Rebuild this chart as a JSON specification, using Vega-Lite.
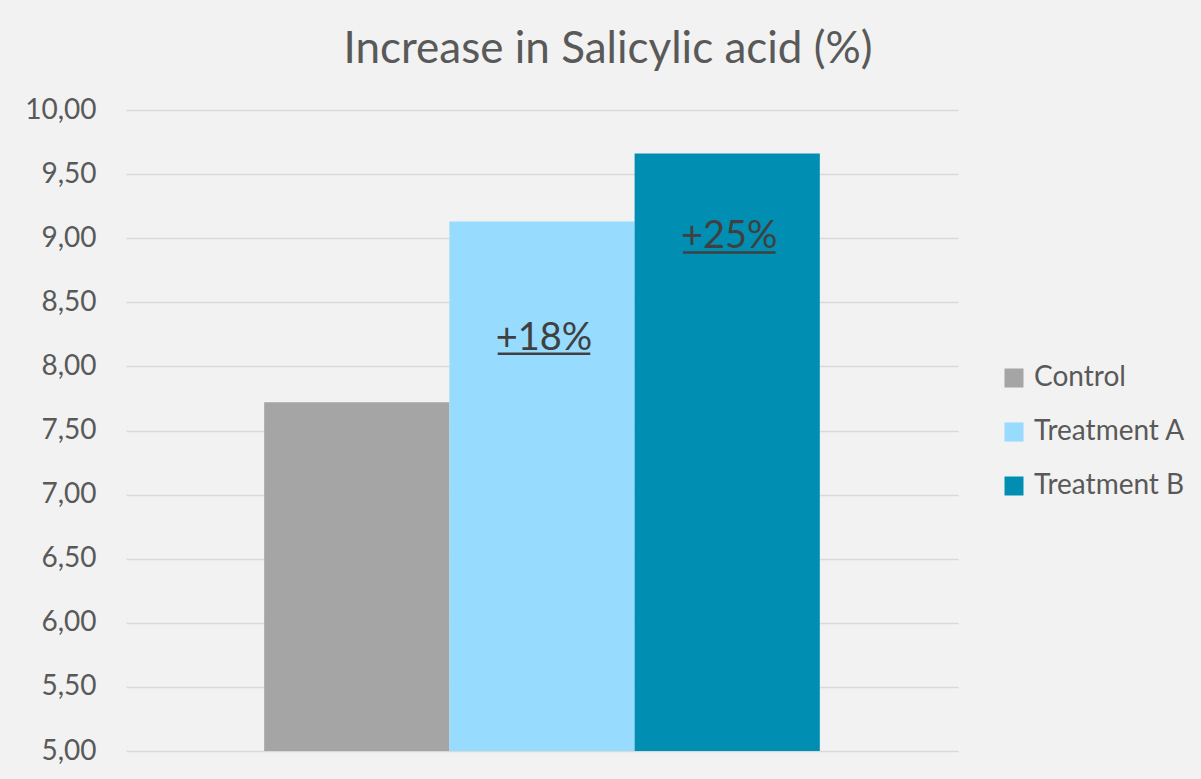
{
  "$schema": "https://vega.github.io/schema/vega-lite/v6.json",
  "width": 832,
  "height": 641,
  "autosize": "none",
  "padding": {"left": 126, "top": 110, "right": 243, "bottom": 28},
  "background": "#f2f2f2",
  "title": {
    "text": "Increase in Salicylic acid (%)",
    "font": "Lato",
    "fontSize": 44,
    "fontWeight": "normal",
    "color": "#595959",
    "anchor": "middle",
    "dx": 66,
    "offset": 24
  },
  "data": {
    "values": [
      {"series": "Control", "value": 7.72, "label": "", "labelPos": null},
      {"series": "Treatment A", "value": 9.13, "label": "+18%", "labelPos": 8.13},
      {"series": "Treatment B", "value": 9.66, "label": "+25%", "labelPos": 8.92}
    ]
  },
  "encoding": {
    "x": {
      "field": "series",
      "type": "nominal",
      "sort": ["Control", "Treatment A", "Treatment B"],
      "scale": {"paddingInner": 0, "paddingOuter": 0.746},
      "axis": null
    }
  },
  "layer": [
    {
      "mark": {"type": "bar"},
      "encoding": {
        "y": {
          "field": "value",
          "type": "quantitative",
          "scale": {"domain": [5, 10], "zero": false, "nice": false},
          "axis": {
            "values": [5, 5.5, 6, 6.5, 7, 7.5, 8, 8.5, 9, 9.5, 10],
            "format": ".2f",
            "title": null,
            "domain": false,
            "ticks": false,
            "labelPadding": 30,
            "labelFont": "Lato",
            "labelFontSize": 28,
            "labelColor": "#595959",
            "gridColor": "#d9d9d9",
            "gridWidth": 1.5
          }
        },
        "y2": {"datum": 5},
        "color": {
          "field": "series",
          "type": "nominal",
          "scale": {
            "domain": ["Control", "Treatment A", "Treatment B"],
            "range": ["#a5a5a5", "#97dbfe", "#008fb3"]
          },
          "legend": {
            "title": null,
            "orient": "none",
            "legendX": 874,
            "legendY": 254,
            "symbolType": "square",
            "symbolSize": 361,
            "symbolStrokeWidth": 0,
            "labelFont": "Lato",
            "labelFontSize": 28,
            "labelColor": "#595959",
            "labelOffset": 6,
            "rowPadding": 26
          }
        }
      }
    },
    {
      "transform": [{"filter": "datum.label != ''"}],
      "mark": {
        "type": "text",
        "font": "Lato",
        "fontSize": 38,
        "color": "#404040",
        "baseline": "alphabetic",
        "align": "center",
        "dx": 2
      },
      "encoding": {
        "y": {"field": "labelPos", "type": "quantitative"},
        "text": {"field": "label"}
      }
    },
    {
      "transform": [{"filter": "datum.label != ''"}],
      "mark": {"type": "rule", "color": "#404040", "strokeWidth": 2.5, "yOffset": 4, "xOffset": 2, "x2Offset": 2},
      "encoding": {
        "x": {"field": "series", "type": "nominal", "bandPosition": 0.25, "sort": ["Control", "Treatment A", "Treatment B"]},
        "x2": {"field": "series", "bandPosition": 0.75},
        "y": {"field": "labelPos", "type": "quantitative"}
      }
    }
  ],
  "config": {
    "locale": {
      "number": {"decimal": ",", "thousands": ".", "grouping": [3], "currency": ["", " €"]}
    },
    "view": {"stroke": null}
  }
}
